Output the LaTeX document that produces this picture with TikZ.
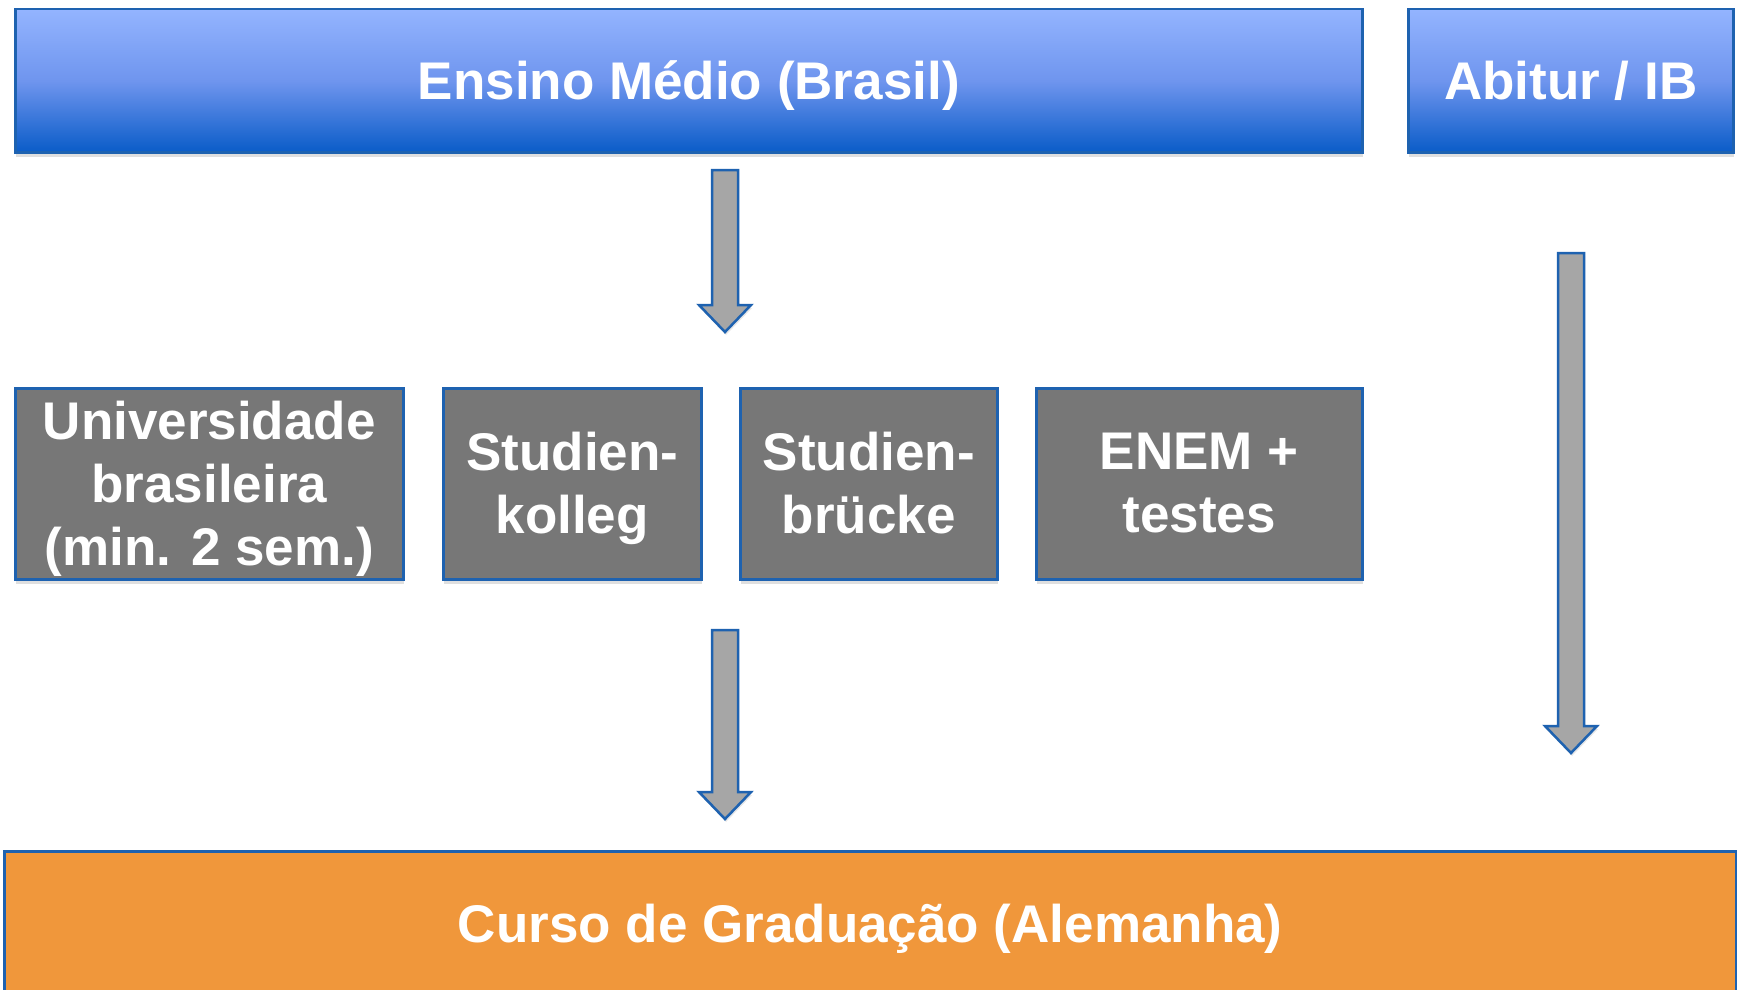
\documentclass[tikz,border=0pt]{standalone}
\usepackage{fontspec}
\setmainfont{Liberation Sans}
\usetikzlibrary{shadows}

\definecolor{edgeblue}{HTML}{1E62B0}
\definecolor{topblue}{HTML}{93B4FF}
\definecolor{midblue}{HTML}{6F95EE}
\definecolor{botblue}{HTML}{0A5CC8}
\definecolor{boxgray}{HTML}{777777}
\definecolor{arrowgray}{HTML}{A6A6A6}
\definecolor{goalorange}{HTML}{F0973B}

\tikzset{
	box/.style={draw=edgeblue, line width=2.5pt, anchor=north west, inner sep=0pt,
		drop shadow={shadow xshift=1pt, shadow yshift=-5pt, opacity=.25}},
	boxtext/.style={text=white, align=center, inner sep=0pt, yshift=-5pt,
		font=\fontsize{53}{63}\selectfont\bfseries},
	txt/.style={label={[boxtext]center:{#1\vphantom{(g}}}},
	schoolbox/.style={box, top color=topblue, bottom color=botblue, middle color=midblue},
	pathbox/.style={box, fill=boxgray},
	goalbox/.style={box, fill=goalorange},
	flowarrow/.style={draw=edgeblue, line width=2.5pt, fill=arrowgray, line join=miter,
		drop shadow={shadow xshift=1pt, shadow yshift=-3pt, opacity=.2}},
}

% block arrow pointing down: x, top, tip
\newcommand{\downflow}[3]{%
	\draw[flowarrow] (#1-13,#2) -- (#1+13,#2) -- (#1+13,#3-27) -- (#1+26,#3-27)
		-- (#1,#3) -- (#1-26,#3-27) -- (#1-13,#3-27) -- cycle;}

\begin{document}
\begin{tikzpicture}[x=1pt, y=-1pt]
	\useasboundingbox (0,0) rectangle (1737,990);

	\node[schoolbox, minimum width=1347pt, minimum height=143pt, txt={Ensino Médio (Brasil)}] (ensino) at (14,8) {};
	\node[schoolbox, minimum width=325pt, minimum height=143pt, txt={Abitur / IB}]  (abitur) at (1407,8) {};

	\node[pathbox, minimum width=388pt, minimum height=191pt, txt={Universidade\\brasileira\\(min. 2 sem.)}] (uni) at (14,387) {};
	\node[pathbox, minimum width=258pt, minimum height=191pt, txt={Studien-\\kolleg}]  (kolleg)  at (442,387)  {};
	\node[pathbox, minimum width=257pt, minimum height=191pt, txt={Studien-\\brücke}]  (bruecke) at (739,387)  {};
	\node[pathbox, minimum width=326pt, minimum height=191pt, txt={ENEM +\\testes}]    (enem)    at (1035,387) {};

	\node[goalbox, minimum width=1732pt, minimum height=146pt, txt={Curso de Graduação (Alemanha)}] (curso) at (3,850) {};

	\downflow{725}{170}{332}
	\downflow{725}{630}{819}
	\downflow{1571}{253}{753}
\end{tikzpicture}
\end{document}
